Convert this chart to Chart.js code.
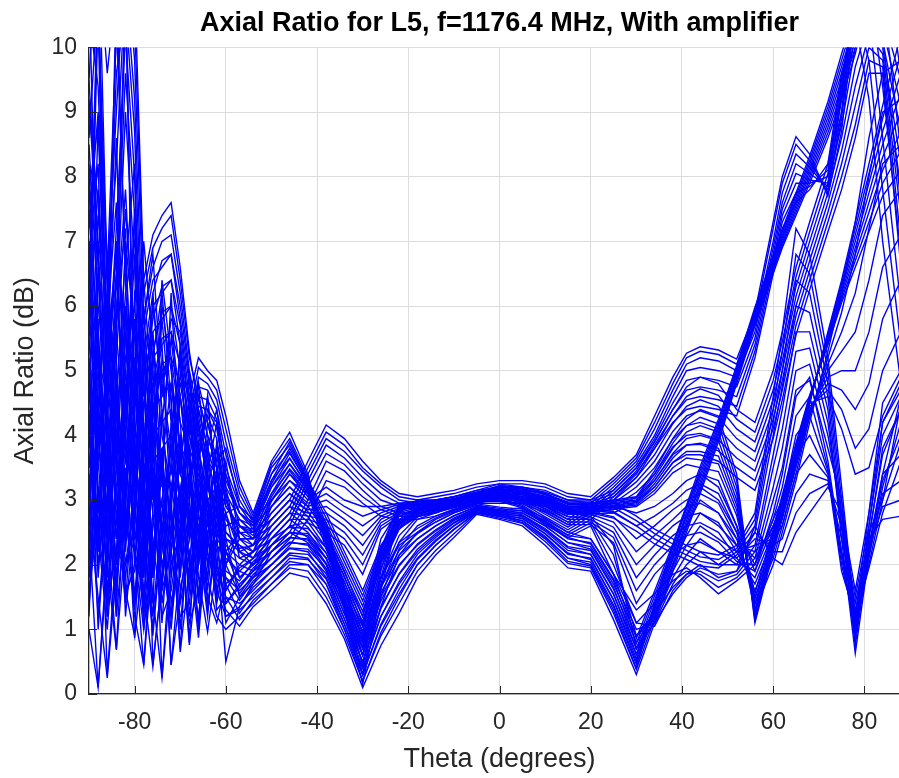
<!DOCTYPE html>
<html>
<head>
<meta charset="utf-8">
<script src="https://cdn.jsdelivr.net/npm/chart.js@4.4.1/dist/chart.umd.min.js"></script>
<style>
  html, body { margin: 0; padding: 0; background: #fff; overflow: hidden; }
  #wrap { width: 899px; height: 778px; overflow: hidden; }
</style>
</head>
<body>
<div id="wrap"><canvas id="arChart" width="910" height="778"></canvas></div>
<script>
// theta sample points (degrees), finer near the horizon
const theta = [-90,-88,-86,-84,-82,-80,-78,-76,-74,-72,-70,-68,-66,-64,-62,-60,
  -57,-54,-50,-46,-42,-38,-34,-30,-26,-22,-18,-14,-10,-5,
  0,5,10,15,20,25,
  30,34,38,41,44,48,52,56,60,62,65,68,72,75,78,81,84,88];

// axial ratio (dB) for each phi cut
const cutA0 = [12,11.5,9.6,11,12.5,11,6.4,7.1,7.4,7.6,6.6,5.3,4.4,3.8,3.3,2.9, 2.6,2.5,2.7,3.0,3.6,4.16,3.95,3.6,3.3,3.1,3.05,3.1,3.15,3.25, 3.3,3.3,3.25,3.1,3.05,3.35, 3.7,4.3,4.9,5.27,5.37,5.32,5.18,5.9,7.3,8.0,8.62,8.35,7.7,8.7,10.6,12,12.5,11];
const cutA1 = [11,10.5,6.5,10.2,12,10.4,6.2,6.9,7.2,7.4,6.4,5.2,4.6,4.0,3.5,3.0, 2.5,2.4,2.6,2.9,3.5,4.05,3.85,3.5,3.25,3.05,3.0,3.05,3.1,3.2, 3.25,3.25,3.2,3.05,3.0,3.3, 3.65,4.2,4.8,5.2,5.3,5.25,5.1,5.8,7.2,7.9,8.5,8.25,7.75,8.9,10.8,12,11.5,9.6];
const cutA2 = [9.5,12,6.4,9.0,11.5,9.8,5.8,6.6,7.0,7.1,6.2,5.0,4.3,3.6,3.1,2.7, 2.4,2.3,2.5,2.8,3.4,3.95,3.75,3.45,3.2,3.0,2.95,3.0,3.05,3.15, 3.2,3.2,3.15,3.0,2.95,3.25, 3.6,4.1,4.7,5.1,5.2,5.15,5.0,5.7,7.0,7.75,8.35,8.15,7.8,9.0,11,12,10.8,8.4];
const cutA3 = [8.6,10.8,6.2,8.2,11,9.2,5.2,6.2,6.7,6.8,6.0,4.9,4.1,3.3,2.8,2.5, 2.3,2.2,2.4,2.7,3.3,3.85,3.65,3.35,3.1,2.95,2.9,2.95,3.0,3.1, 3.15,3.15,3.1,2.95,2.9,3.2, 3.55,4.0,4.6,5.0,5.05,5.0,4.9,5.6,6.9,7.6,8.2,8.05,7.85,9.2,11,11.5,10.2,7.6];
const cutA4 = [10.5,9.4,5.6,9.6,10.6,8.7,4.6,5.8,6.3,6.4,5.7,4.6,3.8,3.0,2.6,2.4, 2.2,2.1,2.3,2.6,3.2,3.72,3.55,3.25,3.0,2.9,2.85,2.9,2.95,3.05, 3.1,3.1,3.05,2.9,2.85,3.15, 3.5,3.95,4.5,4.85,4.9,4.85,4.75,5.5,6.8,7.5,8.05,7.95,7.9,9.3,11,11,9.4,6.8];
const cutA5 = [7.8,8.8,4.8,7.2,10.2,8.0,3.8,5.3,5.9,6.0,5.4,4.4,3.6,2.9,2.5,2.3, 2.1,2.0,2.2,2.5,3.0,3.6,3.45,3.15,2.9,2.8,2.8,2.85,2.9,3.0, 3.05,3.05,3.0,2.85,2.8,3.1, 3.45,3.9,4.4,4.7,4.75,4.7,4.6,5.4,6.7,7.4,7.9,7.9,8.0,9.4,10.8,10.5,8.6,6.0];
const cutA6 = [9.0,7.6,4.2,6.4,9.6,7.4,3.2,4.8,5.5,5.6,5.1,4.2,3.5,2.8,2.4,2.2, 2.0,1.9,2.1,2.4,2.9,3.45,3.3,3.05,2.85,2.75,2.75,2.8,2.9,3.0, 3.0,3.0,2.95,2.8,2.75,3.05, 3.4,3.85,4.3,4.55,4.6,4.55,4.45,5.3,6.6,7.3,7.75,7.85,8.1,9.5,10.6,9.8,7.8,5.4];
const cutA7 = [6.8,8.2,3.6,5.8,9.0,6.6,2.6,4.3,5.1,5.2,4.8,4.0,3.3,2.7,2.3,2.1, 1.9,1.8,2.0,2.3,2.7,3.3,3.2,2.95,2.75,2.7,2.7,2.75,2.85,2.95, 2.95,2.95,2.9,2.75,2.7,3.0, 3.35,3.8,4.2,4.4,4.45,4.4,4.3,5.2,6.5,7.2,7.6,7.8,8.2,9.6,10.4,9.2,7.0,4.8];

const cutB0 = [5.5,3.2,1.2,4.5,6.8,4.0,1.8,3.5,2.0,1.2,3.0,4.6,5.2,5.0,4.85,4.3, 3.3,2.8,3.6,4.05,3.4,2.3,1.3,0.15,1.6,2.8,3.0,3.0,3.05,3.15, 3.25,3.2,3.1,2.95,2.95,3.0, 3.05,3.45,3.95,4.25,4.4,4.3,3.4,1.1,2.2,2.8,3.6,4.5,5.6,6.4,7.3,8.2,9.1,10.2];
const cutB1 = [4.0,2.0,3.5,6.0,5.0,2.2,0.45,2.6,3.8,2.0,2.5,4.3,5.05,4.9,4.7,4.1, 3.2,2.75,3.55,3.95,3.35,2.35,1.35,0.3,1.7,2.82,2.98,2.98,3.02,3.12, 3.22,3.18,3.08,2.93,2.93,2.98, 3.03,3.4,3.88,4.15,4.28,4.18,3.3,1.15,2.25,2.84,3.64,4.5,5.57,6.35,7.2,8.05,8.9,9.9];
const cutB2 = [2.5,0.1,2.0,5.2,7.5,5.5,3.0,1.2,2.8,3.5,2.6,4.0,4.9,4.8,4.55,3.9, 3.1,2.7,3.5,3.85,3.3,2.4,1.4,0.45,1.8,2.84,2.96,2.96,3.0,3.1, 3.2,3.15,3.05,2.9,2.9,2.96, 3.0,3.35,3.8,4.05,4.15,4.05,3.2,1.2,2.3,2.88,3.68,4.52,5.54,6.3,7.1,7.9,8.7,9.6];
const cutB3 = [1.5,3.8,5.0,3.0,1.4,3.5,5.2,4.0,0.25,2.2,3.8,3.6,4.75,4.7,4.4,3.7, 3.0,2.65,3.4,3.75,3.25,2.45,1.45,0.6,1.9,2.86,2.95,2.95,2.98,3.08, 3.18,3.12,3.02,2.88,2.88,2.94, 2.98,3.3,3.72,3.95,4.0,3.92,3.1,1.25,2.35,2.92,3.72,4.54,5.5,6.25,7.0,7.75,8.5,9.3];
const cutB4 = [3.0,5.5,2.5,0.7,3.2,5.8,4.2,2.2,3.0,0.45,2.0,3.8,4.6,4.55,4.25,3.5, 2.9,2.6,3.3,3.65,3.2,2.5,1.5,0.72,2.0,2.88,2.94,2.94,2.96,3.06, 3.15,3.1,3.0,2.85,2.86,2.92, 2.96,3.25,3.65,3.85,3.88,3.8,3.0,1.3,2.4,2.96,3.76,4.56,5.47,6.2,6.9,7.6,8.3,9.0];
const cutB5 = [6.5,4.5,0.3,2.2,4.8,3.0,1.2,4.5,3.5,2.8,0.7,3.0,4.45,4.4,4.1,3.3, 2.8,2.55,3.2,3.55,3.15,2.55,1.55,0.85,2.1,2.9,2.93,2.92,2.95,3.04, 3.12,3.08,2.98,2.82,2.84,2.9, 2.94,3.2,3.58,3.75,3.75,3.68,2.92,1.38,2.45,3.0,3.8,4.58,5.44,6.15,6.8,7.45,8.1,8.7];
const cutB6 = [2.0,4.8,6.2,3.5,1.6,0.9,3.8,5.0,2.5,3.8,3.0,0.8,3.8,4.3,3.95,3.1, 2.7,2.5,3.1,3.45,3.1,2.6,1.6,0.95,2.2,2.92,2.92,2.9,2.94,3.02, 3.1,3.05,2.95,2.8,2.82,2.88, 2.92,3.15,3.5,3.65,3.62,3.56,2.84,1.46,2.5,3.04,3.84,4.6,5.42,6.1,6.7,7.3,7.9,8.4];
const cutB7 = [5.0,1.0,3.0,6.5,4.0,2.5,5.5,0.45,1.8,3.2,4.0,2.8,1.0,3.6,3.8,2.9, 2.6,2.45,3.0,3.4,3.05,2.65,1.65,1.05,2.25,2.94,2.9,2.88,2.92,3.0, 3.08,3.02,2.92,2.78,2.8,2.86, 2.9,3.1,3.42,3.55,3.5,3.44,2.76,1.55,2.55,3.08,3.88,4.62,5.4,6.05,6.6,7.15,7.7,8.1];

const cutC0 = [1.0,0.1,2.2,3.8,1.6,1.9,2.8,1.5,0.25,1.8,3.2,2.0,1.2,2.4,1.8,1.3, 1.05,1.35,1.6,1.87,1.8,1.4,0.85,0.1,0.75,1.25,1.8,2.15,2.42,2.78, 2.7,2.6,2.3,1.95,1.9,1.15, 0.3,1.1,1.9,2.5,3.1,3.9,4.8,5.7,6.5,6.9,7.4,7.9,8.6,9.2,9.9,10.8,11.5,12];
const cutC1 = [2.8,1.5,0.25,1.9,3.0,1.2,0.45,2.2,3.4,0.45,1.5,2.6,1.8,0.96,2.0,1.5, 1.15,1.45,1.7,1.95,1.9,1.5,0.92,0.2,0.9,1.4,1.9,2.22,2.48,2.8, 2.72,2.64,2.36,2.02,1.95,1.25, 0.38,1.17,1.96,2.56,3.16,3.95,4.84,5.74,6.54,6.94,7.45,7.96,8.68,9.3,10.0,10.9,11.6,12];
const cutC2 = [1.5,3.2,2.0,0.68,2.4,3.5,1.6,0.42,1.8,2.8,0.65,1.9,2.8,1.5,1.1,1.7, 1.25,1.55,1.8,2.05,2.0,1.6,1.0,0.3,1.05,1.55,2.0,2.3,2.54,2.82, 2.74,2.68,2.42,2.1,2.0,1.35, 0.46,1.24,2.02,2.62,3.22,4.0,4.88,5.78,6.58,6.98,7.5,8.02,8.76,9.4,10.1,11,11.8,12];
const cutC3 = [4.2,2.5,1.0,2.8,1.5,2.0,3.6,2.4,1.2,1.6,2.6,0.76,2.1,3.0,2.2,0.5, 1.35,1.65,1.9,2.15,2.1,1.7,1.08,0.4,1.2,1.7,2.1,2.38,2.6,2.84, 2.76,2.72,2.48,2.18,2.08,1.45, 0.54,1.31,2.08,2.68,3.28,4.05,4.92,5.82,6.62,7.02,7.55,8.08,8.84,9.5,10.2,11.2,12,12];
const cutC4 = [3.5,5.0,3.2,1.5,3.5,0.87,2.2,3.2,2.0,2.6,1.4,2.2,0.87,2.5,2.6,1.8, 1.45,1.75,2.0,2.25,2.2,1.8,1.16,0.5,1.35,1.85,2.2,2.45,2.65,2.86, 2.78,2.76,2.54,2.26,2.16,1.55, 0.62,1.38,2.14,2.74,3.34,4.1,4.96,5.86,6.66,7.06,7.6,8.14,8.92,9.6,10.3,11.3,12,12];
const cutC5 = [6.0,3.6,1.8,4.4,2.6,2.2,1.0,2.6,3.6,1.4,2.2,3.4,2.4,1.2,2.8,2.0, 1.55,1.85,2.1,2.35,2.3,1.9,1.24,0.6,1.5,2.0,2.3,2.52,2.7,2.88, 2.8,2.8,2.6,2.34,2.24,1.65, 0.7,1.45,2.2,2.8,3.4,4.15,5.0,5.9,6.7,7.1,7.65,8.2,9.0,9.7,10.4,11.4,12,12];
const cutC6 = [2.2,6.5,4.0,2.0,5.0,3.8,2.4,0.9,2.5,3.5,2.8,1.6,3.0,2.5,1.4,2.2, 1.65,1.95,2.2,2.42,2.38,2.0,1.32,0.7,1.65,2.15,2.4,2.6,2.75,2.9, 2.82,2.84,2.66,2.42,2.32,1.75, 0.78,1.52,2.26,2.86,3.46,4.2,5.04,5.94,6.74,7.14,7.7,8.26,9.08,9.8,10.5,11.5,12,12];
const cutC7 = [7.5,5.2,2.8,5.6,3.8,1.5,3.2,4.0,1.4,2.4,3.6,2.8,2.0,3.2,2.8,1.9, 1.75,2.05,2.3,2.5,2.45,2.1,1.4,0.8,1.8,2.3,2.5,2.66,2.8,2.92, 2.84,2.88,2.72,2.5,2.4,1.85, 0.86,1.59,2.32,2.92,3.52,4.25,5.08,5.98,6.78,7.18,7.75,8.32,9.16,9.9,10.6,11.6,12,12];

const cutD0 = [8.5,6.0,4.5,7.0,5.5,3.0,4.5,6.0,4.8,3.8,4.6,3.5,2.5,1.8,3.2,2.8, 2.9,2.7,3.0,3.3,3.0,3.2,3.0,2.9,2.9,2.95,2.98,3.0,3.05,3.12, 3.15,3.05,2.9,2.7,2.95,2.95, 2.75,2.55,2.4,2.3,2.2,2.15,2.3,2.8,4.6,5.6,7.2,6.8,5.2,3.2,1.2,2.8,4.2,4.8];
const cutD1 = [6.0,7.8,5.5,3.5,6.0,4.8,2.2,5.2,6.2,4.5,3.0,4.2,3.2,2.0,2.6,3.4, 2.8,2.6,2.9,3.2,2.95,3.1,2.9,2.75,2.85,2.93,2.96,2.98,3.02,3.1, 3.12,3.02,2.86,2.66,2.9,2.88, 2.68,2.48,2.32,2.22,2.12,2.08,2.25,2.7,4.4,5.3,6.8,6.5,5.0,3.0,1.05,2.6,4.0,4.6];
const cutD2 = [3.5,5.2,4.6,5.0,2.8,6.2,5.6,3.0,4.2,5.5,4.2,2.5,3.8,3.0,1.5,2.6, 2.7,2.5,2.8,3.1,2.9,3.0,2.8,2.6,2.8,2.9,2.94,2.96,3.0,3.08, 3.1,3.0,2.82,2.62,2.85,2.8, 2.6,2.4,2.25,2.15,2.05,2.0,2.2,2.6,4.2,5.0,6.4,6.2,4.8,2.8,0.9,2.45,3.7,4.4];
const cutD3 = [7.0,4.0,2.5,5.8,7.8,5.0,3.4,4.6,5.4,2.8,5.0,3.6,2.2,3.6,3.4,2.0, 2.6,2.4,2.7,3.0,2.85,2.9,2.7,2.45,2.75,2.87,2.92,2.94,2.98,3.06, 3.08,2.98,2.78,2.58,2.8,2.72, 2.52,2.32,2.18,2.08,1.98,1.95,2.15,2.5,4.0,4.75,6.0,5.9,4.6,2.6,0.75,2.3,3.4,3.7];
const cutD4 = [5.0,2.5,5.8,7.6,4.2,6.8,4.0,2.0,3.6,4.8,3.4,5.0,3.0,2.6,3.8,3.0, 2.5,2.3,2.6,2.9,2.8,2.8,2.6,2.3,2.7,2.84,2.9,2.92,2.96,3.04, 3.05,2.95,2.74,2.54,2.75,2.3, 0.7,1.1,1.55,1.8,1.95,1.85,1.9,2.3,3.7,4.4,5.6,5.6,4.4,2.4,0.63,2.15,3.1,3.3];
const cutD5 = [9.5,7.0,3.8,2.4,5.6,4.4,6.0,3.5,2.4,4.0,5.2,4.0,4.2,3.2,2.8,3.6, 2.4,2.2,2.5,2.8,2.75,2.7,2.5,2.15,2.65,2.81,2.88,2.9,2.94,3.02, 3.02,2.92,2.7,2.5,2.7,2.15, 0.9,1.25,1.65,1.85,1.9,1.75,1.85,2.2,3.5,4.1,5.3,5.35,4.2,2.6,0.85,2.25,2.9,3.0];
const cutD6 = [4.5,8.8,6.8,4.0,2.0,3.0,5.0,5.5,4.0,3.2,2.4,3.2,4.6,4.0,3.5,2.4, 2.3,2.1,2.4,2.7,2.7,2.6,2.4,2.0,2.6,2.78,2.86,2.88,2.92,3.0, 3.0,2.9,2.66,2.46,2.65,2.0, 1.1,1.4,1.75,1.9,1.85,1.65,1.8,2.1,3.2,3.8,5.0,5.1,4.0,2.8,1.0,2.4,2.7,2.75];
const cutD7 = [8.0,3.0,1.5,3.2,4.6,5.8,1.8,3.8,6.0,5.0,3.8,2.0,3.6,4.4,4.2,3.2, 2.2,2.0,2.3,2.6,2.65,2.5,2.3,1.85,2.55,2.75,2.84,2.86,2.9,2.98, 2.98,2.88,2.62,2.42,2.6,1.85, 1.3,1.55,1.85,1.95,1.8,1.55,1.75,2.0,3.0,3.5,4.7,4.85,3.8,3.0,1.2,2.5,3.0,4.5];

const cutE0 = [7.2,9.0,5.0,6.5,10.8,4.5,5.8,6.8,4.6,5.8,5.6,4.4,4.8,4.2,3.6,3.8, 2.9,2.7,3.4,3.9,3.3,2.8,2.2,1.6,2.3,2.7,2.88,2.95,3.02,3.1, 3.18,3.14,3.02,2.87,2.9,2.9, 2.8,2.9,3.1,3.3,3.4,3.3,2.6,1.3,2.0,2.5,3.3,4.2,5.3,6.2,7.3,8.6,9.6,9.8];
const cutE1 = [5.8,10.8,5.2,8.6,3.8,7.5,4.8,3.6,5.8,4.2,4.8,4.8,4.0,3.4,4.2,3.2, 2.8,2.65,3.3,3.8,3.28,2.72,2.12,1.52,2.26,2.68,2.86,2.93,3.0,3.08, 3.15,3.11,2.99,2.84,2.86,2.82, 2.6,2.75,2.95,3.15,3.25,3.1,2.5,1.4,2.1,2.6,3.4,4.3,5.2,5.9,6.8,8.0,9.0,9.2];
const cutE2 = [3.0,6.6,5.5,10.4,6.6,8.2,3.6,5.6,3.2,6.2,3.6,4.6,3.6,4.6,3.0,2.6, 2.7,2.6,3.25,3.72,3.25,2.64,2.04,1.44,2.22,2.66,2.84,2.91,2.98,3.06, 3.13,3.08,2.96,2.81,2.82,2.74, 2.4,2.6,2.85,3.0,3.1,2.95,2.4,1.5,2.2,2.7,3.5,4.3,5.1,5.6,6.2,7.2,8.2,8.5];
const cutE3 = [11,5.5,3.2,6.0,7.2,2.8,6.4,4.4,5.0,3.4,5.4,3.0,4.4,3.8,4.4,3.4, 2.6,2.55,3.2,3.64,3.22,2.56,1.96,1.36,2.18,2.64,2.82,2.89,2.96,3.04, 3.1,3.05,2.93,2.78,2.78,2.66, 2.2,2.45,2.7,2.9,2.95,2.8,2.3,1.6,2.3,2.75,3.55,4.35,5.0,5.3,5.6,6.4,7.4,7.8];
const cutE4 = [4.6,7.4,6.0,2.6,5.2,6.0,4.0,2.8,6.4,5.2,2.8,4.4,2.8,4.2,3.6,2.2, 2.5,2.5,3.1,3.56,3.19,2.48,1.88,1.28,2.14,2.62,2.8,2.87,2.94,3.02, 3.08,3.02,2.9,2.74,2.74,2.58, 2.0,2.3,2.6,2.75,2.8,2.65,2.2,1.7,2.4,2.8,3.6,4.4,4.9,5.0,5.0,5.6,6.6,7.1];
const cutE5 = [6.4,3.6,4.8,7.0,3.0,4.8,7.0,5.4,2.2,3.0,4.6,3.8,3.4,2.4,3.9,3.0, 2.4,2.4,3.05,3.48,3.16,2.4,1.8,1.2,2.1,2.6,2.78,2.85,2.92,3.0, 3.05,3.0,2.87,2.7,2.7,2.5, 1.8,2.15,2.45,2.6,2.65,2.5,2.1,1.8,2.5,2.85,3.65,4.4,4.8,4.7,4.4,4.8,5.8,6.4];
const cutE6 = [2.6,5.6,3.4,5.4,11,3.6,2.8,6.2,4.4,2.2,3.2,2.6,4.2,3.4,2.6,2.8, 2.2,2.3,2.98,3.4,3.13,2.32,1.72,1.12,2.06,2.58,2.76,2.83,2.9,2.98, 3.03,2.97,2.84,2.66,2.66,2.42, 1.6,2.0,2.3,2.45,2.5,2.35,2.05,1.9,2.6,2.9,3.7,4.45,4.7,4.4,3.8,4.1,5.0,5.6];
const cutE7 = [9.2,6.8,2.2,4.0,6.2,7.0,4.8,1.8,5.2,4.6,1.8,3.4,2.0,3.0,3.2,1.6, 2.0,2.2,2.9,3.3,3.1,2.24,1.64,1.04,2.02,2.56,2.74,2.81,2.88,2.96, 3.0,2.94,2.81,2.62,2.62,2.34, 1.4,1.85,2.15,2.3,2.35,2.2,2.0,2.0,2.7,3.0,3.75,4.5,4.6,4.1,3.4,3.5,4.3,4.9];

const cutF0 = [3.8,7.0,6.0,5.2,2.4,4.6,5.6,6.4,6.6,6.8,5.8,4.8,3.6,4.6,2.9,2.0, 2.4,2.4,2.9,3.2,2.9,2.5,1.9,1.2,2.4,2.85,2.9,2.95,3.0,3.08, 3.22,3.2,3.12,3.0,3.0,3.15, 3.5,3.9,4.4,4.75,4.9,4.8,4.4,4.2,5.0,5.6,6.6,7.3,8.2,9.2,10.4,11,10.5,9.5];
const cutF1 = [6.8,2.8,4.6,11,6.4,3.2,5.0,6.0,6.2,6.4,5.4,4.0,4.8,3.2,3.8,2.5, 2.25,2.3,2.8,3.1,2.82,2.42,1.82,1.08,2.25,2.75,2.86,2.92,2.98,3.06, 3.2,3.17,3.09,2.97,2.97,3.1, 3.42,3.8,4.3,4.6,4.72,4.62,4.25,4.05,4.85,5.45,6.45,7.15,8.05,9.0,10.2,10.8,10.3,9.1];
const cutF2 = [2.2,4.4,6.8,3.6,7.0,5.6,4.4,5.6,5.8,6.0,5.0,4.6,2.8,3.9,2.4,3.1, 2.1,2.2,2.7,3.0,2.74,2.34,1.74,0.96,2.1,2.65,2.82,2.89,2.96,3.04, 3.17,3.14,3.06,2.94,2.94,3.05, 3.35,3.7,4.18,4.45,4.55,4.45,4.1,3.9,4.7,5.3,6.3,7.0,7.9,8.8,10.0,10.6,10.1,8.7];
const cutF3 = [5.4,10.5,3.8,2.0,4.4,7.4,3.8,5.2,5.4,5.6,4.6,3.2,3.9,2.2,3.5,1.6, 1.95,2.1,2.6,2.9,2.66,2.26,1.66,0.84,1.95,2.55,2.78,2.86,2.94,3.02, 3.15,3.11,3.03,2.91,2.91,3.0, 3.28,3.6,4.06,4.3,4.38,4.28,3.95,3.75,4.55,5.15,6.15,6.85,7.75,8.6,9.7,10.4,10.0,8.2];
const cutF4 = [8.2,5.0,2.0,4.8,2.2,4.2,3.2,4.8,5.0,5.2,4.2,3.8,2.0,3.4,2.0,2.8, 1.8,2.0,2.5,2.8,2.58,2.18,1.58,0.72,1.8,2.45,2.74,2.83,2.92,3.0, 3.12,3.08,3.0,2.88,2.88,2.95, 3.2,3.5,3.94,4.15,4.2,4.1,3.8,3.6,4.4,5.0,6.0,6.7,7.6,8.4,9.4,10.2,9.9,7.8];
const cutF5 = [4.4,2.2,5.4,6.8,5.8,2.4,2.6,4.4,4.6,4.8,3.8,2.4,3.2,1.6,2.9,1.4, 1.65,1.9,2.4,2.7,2.5,2.1,1.5,0.6,1.65,2.35,2.7,2.8,2.9,2.98, 3.1,3.05,2.97,2.85,2.85,2.9, 3.12,3.4,3.82,4.0,4.03,3.93,3.65,3.45,4.25,4.85,5.85,6.55,7.45,8.2,9.1,10.0,9.8,7.4];
const cutF6 = [1.8,4.0,4.8,4.4,3.6,5.2,2.0,4.0,4.2,4.4,3.4,3.0,1.4,2.8,1.8,2.4, 1.5,1.8,2.3,2.6,2.42,2.02,1.42,0.45,1.5,2.25,2.6,2.75,2.86,2.96, 3.07,3.02,2.94,2.82,2.82,2.85, 3.05,3.3,3.7,3.85,3.86,3.76,3.5,3.3,4.1,4.7,5.7,6.4,7.3,8.0,8.8,9.8,9.7,7.0];
const cutF7 = [6.2,11,4.2,1.2,6.0,3.4,1.4,3.6,3.8,4.0,3.0,1.8,2.6,1.3,2.4,1.2, 1.35,1.7,2.2,2.5,2.34,1.94,1.34,0.3,1.35,2.15,2.5,2.7,2.82,2.94, 3.05,2.99,2.91,2.79,2.79,2.8, 2.98,3.2,3.58,3.7,3.7,3.6,3.35,3.15,3.95,4.55,5.55,6.25,7.15,7.8,8.6,9.6,9.6,6.6];

const cutG0 = [1.8,2.6,1.4,2.2,2.0,2.6,1.2,2.8,1.6,2.2,1.2,1.4,2.8,1.8,1.2,1.0, 1.2,1.4,1.7,2.0,2.0,1.7,1.0,0.2,0.95,1.5,2.0,2.3,2.55,2.8, 2.75,2.65,2.4,2.05,1.98,1.3, 0.4,1.4,2.3,2.9,3.4,3.2,2.6,1.9,2.8,3.4,4.6,4.9,3.6,2.2,0.9,2.2,3.4,4.6];
const cutG1 = [3.4,1.2,3.0,1.2,2.8,1.4,2.6,1.0,2.6,1.2,2.4,1.1,1.6,2.2,1.6,1.2, 1.3,1.5,1.8,2.1,2.08,1.78,1.08,0.3,1.08,1.62,2.08,2.36,2.6,2.82, 2.77,2.68,2.44,2.1,2.04,1.38, 0.5,1.35,2.2,2.75,3.2,3.0,2.5,2.0,2.7,3.2,4.3,4.6,3.5,2.1,1.0,2.1,3.2,4.2];
const cutG2 = [2.2,4.2,1.6,3.2,1.8,3.0,1.4,3.4,1.1,3.0,1.0,2.8,1.0,2.8,1.3,1.5, 1.4,1.6,1.9,2.18,2.16,1.86,1.16,0.4,1.2,1.74,2.16,2.42,2.64,2.84, 2.79,2.71,2.48,2.16,2.1,1.46, 0.6,1.3,2.1,2.6,3.0,2.8,2.4,2.1,2.6,3.0,4.0,4.3,3.45,2.0,1.1,2.0,3.0,3.9];
const cutG3 = [4.8,1.8,3.8,2.4,4.0,1.3,3.4,1.8,3.8,1.8,3.2,1.6,3.2,1.4,2.4,1.1, 1.5,1.7,2.0,2.26,2.24,1.94,1.24,0.5,1.32,1.86,2.24,2.48,2.68,2.86, 2.81,2.74,2.52,2.22,2.16,1.54, 0.7,1.25,2.0,2.45,2.8,2.6,2.3,2.2,2.5,2.8,3.7,4.0,3.4,1.9,1.2,1.95,2.8,3.6];
const cutG4 = [1.4,3.0,2.6,4.6,1.2,2.8,2.0,4.2,2.4,1.0,2.6,3.4,1.5,3.4,1.9,1.8, 1.6,1.8,2.1,2.34,2.32,2.02,1.32,0.6,1.44,1.98,2.32,2.54,2.72,2.88, 2.83,2.77,2.56,2.28,2.22,1.62, 0.8,1.2,1.9,2.3,2.6,2.4,2.2,2.3,2.4,2.6,3.4,3.7,3.35,2.2,1.3,2.2,3.3,4.0];
const cutG5 = [2.6,5.8,1.2,3.6,2.4,4.4,1.0,2.2,3.0,3.8,1.6,2.4,3.6,2.0,3.0,1.4, 1.7,1.9,2.2,2.42,2.4,2.1,1.4,0.7,1.56,2.1,2.4,2.6,2.76,2.9, 2.85,2.8,2.6,2.34,2.28,1.7, 0.9,1.15,1.8,2.15,2.4,2.2,2.1,2.4,2.3,2.4,3.1,3.4,3.3,2.4,1.4,2.4,3.8,4.4];
const cutG6 = [5.2,2.2,4.6,1.6,4.6,2.0,4.2,1.4,4.4,2.4,4.0,1.2,2.4,3.8,1.6,2.2, 1.8,2.0,2.3,2.5,2.48,2.18,1.48,0.8,1.68,2.22,2.48,2.66,2.8,2.92, 2.87,2.83,2.64,2.4,2.34,1.78, 1.0,1.1,1.7,2.0,2.2,2.0,2.0,2.5,2.2,2.2,2.8,3.1,3.25,2.6,1.5,2.6,4.2,4.7];
const cutG7 = [1.2,4.6,2.4,5.0,3.0,5.2,2.4,4.6,1.6,4.2,2.2,3.8,1.8,1.8,3.4,1.7, 1.9,2.1,2.4,2.58,2.56,2.26,1.56,0.9,1.8,2.34,2.56,2.72,2.84,2.94, 2.89,2.86,2.68,2.45,2.4,1.86, 1.1,1.05,1.6,1.85,2.0,1.8,1.9,2.6,2.1,2.0,2.5,2.8,3.2,2.8,1.6,2.8,4.5,5.0];

const cuts = [cutA0, cutA1, cutA2, cutA3, cutA4, cutA5, cutA6, cutA7,
  cutB0, cutB1, cutB2, cutB3, cutB4, cutB5, cutB6, cutB7,
  cutC0, cutC1, cutC2, cutC3, cutC4, cutC5, cutC6, cutC7,
  cutD0, cutD1, cutD2, cutD3, cutD4, cutD5, cutD6, cutD7,
  cutE0, cutE1, cutE2, cutE3, cutE4, cutE5, cutE6, cutE7,
  cutF0, cutF1, cutF2, cutF3, cutF4, cutF5, cutF6, cutF7,
  cutG0, cutG1, cutG2, cutG3, cutG4, cutG5, cutG6, cutG7];

const xTicks = [-80, -60, -40, -20, 0, 20, 40, 60, 80];
const yTicks = [0, 1, 2, 3, 4, 5, 6, 7, 8, 9, 10];

const axisColor = '#262626';
Chart.defaults.font.family = '"Liberation Sans", Arial, Helvetica, sans-serif';

// short tick marks pointing into the plot, like the axes box
const innerTicks = {
  id: 'innerTicks',
  afterDraw(chart) {
    const { ctx, chartArea, scales } = chart;
    ctx.save();
    ctx.strokeStyle = axisColor;
    ctx.lineWidth = 1;
    ctx.beginPath();
    xTicks.forEach(v => {
      const px = Math.round(scales.x.getPixelForValue(v)) + 0.5;
      ctx.moveTo(px, chartArea.bottom);
      ctx.lineTo(px, chartArea.bottom - 8);
    });
    yTicks.forEach(v => {
      const py = Math.round(scales.y.getPixelForValue(v)) + 0.5;
      ctx.moveTo(chartArea.left, py);
      ctx.lineTo(chartArea.left + 8, py);
    });
    ctx.stroke();
    ctx.restore();
  }
};

const datasets = cuts.map(c => ({
  data: c.map((v, i) => ({ x: theta[i], y: v })),
  borderColor: '#0000ff',
  borderWidth: 1.4,
  pointRadius: 0,
  fill: false,
  tension: 0
}));

new Chart(document.getElementById('arChart'), {
  type: 'line',
  data: { datasets },
  options: {
    responsive: false,
    animation: false,
    devicePixelRatio: 1,
    parsing: false,
    layout: { padding: 0 },
    plugins: {
      legend: { display: false },
      tooltip: { enabled: false },
      title: {
        display: true,
        fullSize: false,
        text: 'Axial Ratio for L5, f=1176.4 MHz, With amplifier',
        color: '#000',
        font: { size: 27, weight: 'bold' },
        padding: { top: 7, bottom: 8 }
      }
    },
    scales: {
      x: {
        type: 'linear',
        min: -90,
        max: 90,
        afterBuildTicks(s) { s.ticks = xTicks.map(v => ({ value: v })); },
        afterFit(s) { s.height = 84; },
        grid: { color: '#dcdcdc', lineWidth: 1, drawTicks: false },
        border: { color: axisColor, width: 1.3 },
        ticks: { color: axisColor, font: { size: 23 }, padding: 15, maxRotation: 0, autoSkip: false },
        title: {
          display: true,
          text: 'Theta (degrees)',
          color: axisColor,
          font: { size: 27 },
          padding: { top: 0, bottom: 2 }
        }
      },
      y: {
        min: 0,
        max: 10,
        afterBuildTicks(s) { s.ticks = yTicks.map(v => ({ value: v })); },
        afterFit(s) { s.width = 89; },
        grid: { color: '#dcdcdc', lineWidth: 1, drawTicks: false },
        border: { color: axisColor, width: 1.3 },
        ticks: { color: axisColor, font: { size: 23 }, padding: 12 },
        title: {
          display: true,
          text: 'Axial Ratio (dB)',
          color: axisColor,
          font: { size: 27 },
          padding: { top: 9, bottom: 0 }
        }
      }
    }
  },
  plugins: [innerTicks]
});
</script>
</body>
</html>
